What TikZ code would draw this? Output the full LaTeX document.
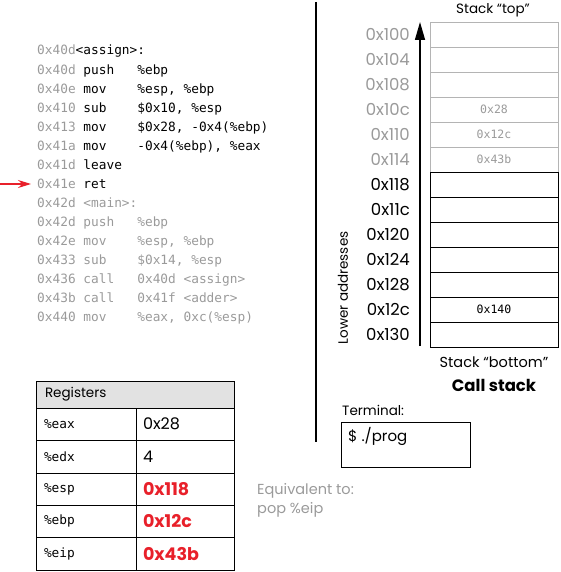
\documentclass[tikz,border=0pt]{standalone}
\usepackage{fontspec}
\setmainfont{Poppins}
\setmonofont{DejaVu Sans Mono}
\usetikzlibrary{positioning,arrows.meta}

\definecolor{addrgray}{HTML}{9A9A9A}
\definecolor{cellgray}{HTML}{B4B4B4}
\definecolor{hotred}{HTML}{E8202A}
\definecolor{headgray}{HTML}{E2E2E2}

\tikzset{
  code/.style={anchor=base west, inner sep=0pt, font=\ttfamily\fontsize{12.8}{15}\selectfont},
  addr/.style={code, text=addrgray},
  slotlabel/.style={anchor=east, inner sep=0pt, font=\fontsize{16.5}{18}\selectfont},
  slot/.style={draw, minimum width=128pt, minimum height=25pt, outer sep=0pt,
    font=\ttfamily\fontsize{11.5}{13}\selectfont},
  oldslot/.style={slot, draw=cellgray, text=addrgray},
  regname/.style={draw, outer sep=0pt, minimum width=100pt, minimum height=32.4pt,
    text width=84pt, align=left, inner xsep=8pt, font=\ttfamily\fontsize{12.8}{15}\selectfont},
  regval/.style={draw, outer sep=0pt, minimum width=98pt, minimum height=32.4pt,
    text width=84pt, align=left, inner xsep=7pt, font=\fontsize{16}{18}\selectfont},
  hotval/.style={regval, text=hotred, font=\bfseries\fontsize{17.5}{19}\selectfont},
  caption/.style={inner sep=0pt, font=\fontsize{13.5}{16}\selectfont},
}

\begin{document}
\begin{tikzpicture}[x=1pt, y=-1pt]
  \useasboundingbox (0,0) rectangle (560,572);

  % Code listing
  \node[addr] (l0) at (37,55) {0x40d\textcolor{black}{<assign>:}};
  \node[addr] (l1) at (37,74.9) {0x40d \textcolor{black}{push\ \ \ \%ebp}};
  \node[addr] (l2) at (37,93.8) {0x40e \textcolor{black}{mov\ \ \ \ \%esp, \%ebp}};
  \node[addr] (l3) at (37,112.8) {0x410 \textcolor{black}{sub\ \ \ \ \$0x10, \%esp}};
  \node[addr] (l4) at (37,131.7) {0x413 \textcolor{black}{mov\ \ \ \ \$0x28, -0x4(\%ebp)}};
  \node[addr] (l5) at (37,150.6) {0x41a \textcolor{black}{mov\ \ \ \ -0x4(\%ebp), \%eax}};
  \node[addr] (l6) at (37,169.6) {0x41d \textcolor{black}{leave}};
  \node[addr] (l7) at (37,188.5) {0x41e \textcolor{black}{ret}};
  \node[addr] (l8) at (37,207.4) {0x42d <main>:};
  \node[addr] (l9) at (37,226.4) {0x42d push\ \ \ \%ebp};
  \node[addr] (l10) at (37,245.3) {0x42e mov\ \ \ \ \%esp, \%ebp};
  \node[addr] (l11) at (37,264.2) {0x433 sub\ \ \ \ \$0x14, \%esp};
  \node[addr] (l12) at (37,283.2) {0x436 call\ \ \ 0x40d <assign>};
  \node[addr] (l13) at (37,302.1) {0x43b call\ \ \ 0x41f <adder>};
  \node[addr] (l14) at (37,321.0) {0x440 mov\ \ \ \ \%eax, 0xc(\%esp)};

  % instruction pointer
  \coordinate (ipfrom) at (0,184);
  \draw[hotred, line width=1.2pt, -{Stealth[length=13pt,width=8pt]}]
    (ipfrom) -- ([xshift=-6pt]l7.west |- ipfrom);

  % divider
  \coordinate (divtop) at (316,2);
  \coordinate (divbot) at (316,442);
  \draw[line width=1.3pt] (divtop) -- (divbot);

  % Call stack
  \foreach \i/\a/\v in {0/100/,1/104/,2/108/,3/10c/0x28,4/110/0x12c,5/114/0x43b} {
    \node[oldslot] (slot\i) at (494,{34.5+25*\i}) {\v};
    \node[slotlabel, text=addrgray] (addr\i) at (410,{34.5+25*\i}) {0x\a};
  }
  \foreach \i/\a/\v in {6/118/,7/11c/,8/120/,9/124/,10/128/,11/12c/0x140,12/130/} {
    \node[slot] (slot\i) at (494,{34.5+25*\i}) {\v};
    \node[slotlabel] (addr\i) at (410,{34.5+25*\i}) {0x\a};
  }
  \coordinate (grow0) at (420,346);
  \coordinate (grow1) at (420,22);
  \draw[line width=1.5pt, -{Triangle[length=18pt,width=10pt]}] (grow0) -- (grow1);

  \node[caption] (top) at (493,10) {Stack “top”};
  \node[caption, font=\fontsize{14.5}{16}\selectfont] (bottom) at (494,362) {Stack “bottom”};
  \node[caption, font=\bfseries\fontsize{16.5}{18}\selectfont] (callstack) at (494,385) {Call stack};
  \node[caption, rotate=90] (lower) at (343,288) {Lower addresses};

  % Registers
  \node[draw, fill=headgray, outer sep=0pt, minimum width=198pt, minimum height=27pt,
    text width=180pt, align=left, inner xsep=9pt, font=\fontsize{13.5}{16}\selectfont]
    (regs) at (135,394.5) {Registers};
  \node[regname, below right=0pt of regs.south west] (eax) {\%eax};
  \node[regval, right=0pt of eax] (eaxv) {0x28};
  \node[regname, below=0pt of eax] (edx) {\%edx};
  \node[regval, right=0pt of edx] (edxv) {4};
  \node[regname, below=0pt of edx] (esp) {\%esp};
  \node[hotval, right=0pt of esp] (espv) {0x118};
  \node[regname, below=0pt of esp] (ebp) {\%ebp};
  \node[hotval, right=0pt of ebp] (ebpv) {0x12c};
  \node[regname, below=0pt of ebp] (eip) {\%eip};
  \node[hotval, right=0pt of eip] (eipv) {0x43b};

  % Terminal
  \node[caption, anchor=west] (termlabel) at (342,410) {Terminal:};
  \node[draw, outer sep=0pt, minimum width=129pt, minimum height=45pt] (term) at (405.5,444.5) {};
  \node[caption, anchor=west, font=\fontsize{15}{17}\selectfont] (prompt)
    at ([xshift=7pt,yshift=-14pt]term.north west) {\$ ./prog};

  \node[caption, anchor=west, text=addrgray, font=\fontsize{14.5}{17}\selectfont] (equiv)
    at (257,491) {Equivalent to:};
  \node[caption, anchor=west, text=addrgray, font=\fontsize{14.5}{17}\selectfont] (popeip)
    at (257,510) {pop \%eip};
\end{tikzpicture}
\end{document}
